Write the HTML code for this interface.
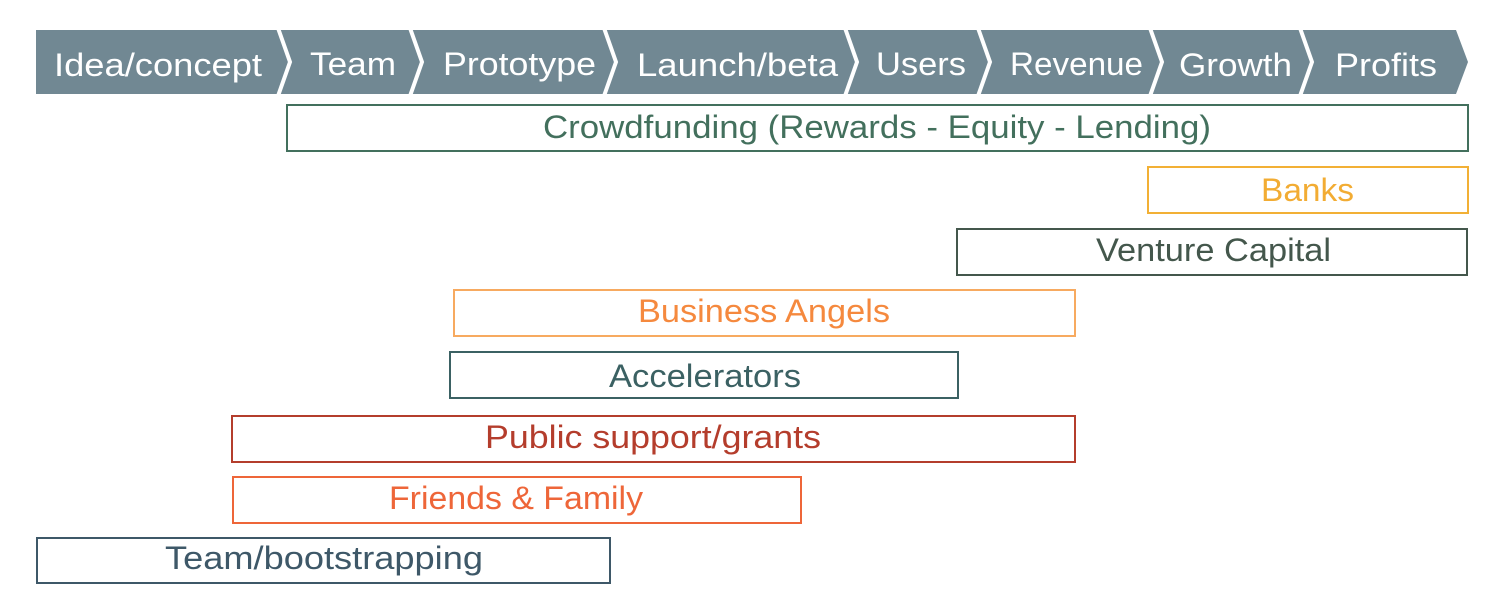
<!DOCTYPE html>
<html><head><meta charset="utf-8"><style>
html,body{margin:0;padding:0;background:#fff;width:1494px;height:594px;overflow:hidden}
svg text{font-family:"Liberation Sans",sans-serif}
</style></head><body>
<svg width="1494" height="594" viewBox="0 0 1494 594" xmlns="http://www.w3.org/2000/svg">
<polygon points="36,30 1456,30 1468,62 1456,94 36,94" fill="#718893"/>
<g fill="none" stroke="#fff" stroke-width="4">
<polyline points="278,28 290,62 278,96"/>
<polyline points="410,28 422,62 410,96"/>
<polyline points="604,28 616,62 604,96"/>
<polyline points="845,28 857,62 845,96"/>
<polyline points="978,28 990,62 978,96"/>
<polyline points="1150,28 1162,62 1150,96"/>
<polyline points="1300,28 1312,62 1300,96"/>
</g>
<g fill="#fff" font-size="32">
<text x="54" y="76" textLength="208" lengthAdjust="spacingAndGlyphs">Idea/concept</text>
<text x="310" y="75" textLength="86" lengthAdjust="spacingAndGlyphs">Team</text>
<text x="443" y="75" textLength="153" lengthAdjust="spacingAndGlyphs">Prototype</text>
<text x="637" y="76" textLength="201" lengthAdjust="spacingAndGlyphs">Launch/beta</text>
<text x="876" y="75" textLength="90" lengthAdjust="spacingAndGlyphs">Users</text>
<text x="1010" y="75" textLength="133" lengthAdjust="spacingAndGlyphs">Revenue</text>
<text x="1179" y="76" textLength="113" lengthAdjust="spacingAndGlyphs">Growth</text>
<text x="1335" y="76" textLength="102" lengthAdjust="spacingAndGlyphs">Profits</text>
</g>
<g fill="none" stroke-width="2">
<rect x="287" y="105" width="1181" height="46" stroke="#43705d"/>
<rect x="1148" y="167" width="320" height="46" stroke="#f2b035"/>
<rect x="957" y="229" width="510" height="46" stroke="#44574c"/>
<rect x="454" y="290" width="621" height="46" stroke="#f7aa60"/>
<rect x="450" y="352" width="508" height="46" stroke="#3b6163"/>
<rect x="232" y="416" width="843" height="46" stroke="#b43d2c"/>
<rect x="233" y="477" width="568" height="46" stroke="#ee6639"/>
<rect x="37" y="538" width="573" height="45" stroke="#3e5868"/>
</g>
<g font-size="32">
<text x="543" y="138" fill="#43705d" textLength="668" lengthAdjust="spacingAndGlyphs">Crowdfunding (Rewards - Equity - Lending)</text>
<text x="1261" y="201" fill="#f2ac33" textLength="93" lengthAdjust="spacingAndGlyphs">Banks</text>
<text x="1096" y="261" fill="#44574c" textLength="235" lengthAdjust="spacingAndGlyphs">Venture Capital</text>
<text x="638" y="322" fill="#f5893e" textLength="252" lengthAdjust="spacingAndGlyphs">Business Angels</text>
<text x="609" y="387" fill="#3b6163" textLength="192" lengthAdjust="spacingAndGlyphs">Accelerators</text>
<text x="485" y="448" fill="#b43d2c" textLength="336" lengthAdjust="spacingAndGlyphs">Public support/grants</text>
<text x="389" y="509" fill="#ee6639" textLength="254" lengthAdjust="spacingAndGlyphs">Friends &amp; Family</text>
<text x="165" y="569" fill="#3e5868" textLength="318" lengthAdjust="spacingAndGlyphs">Team/bootstrapping</text>
</g>
</svg>
</body></html>
